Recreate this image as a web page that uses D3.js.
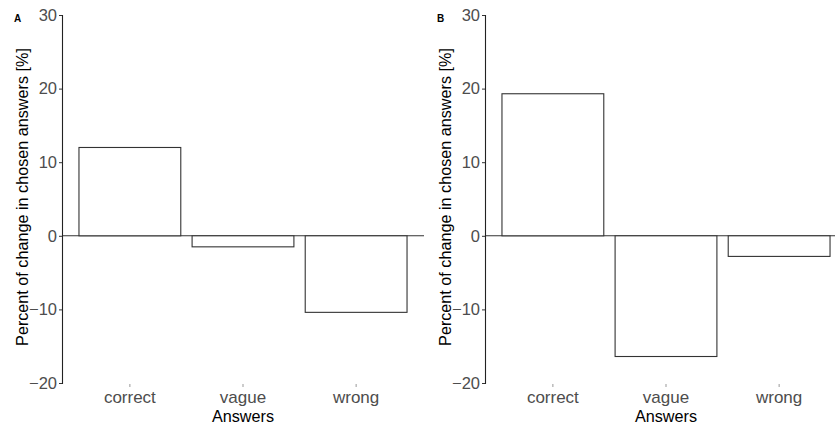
<!DOCTYPE html>
<html>
<head>
  <meta charset="utf-8">
  <title>Change in chosen answers</title>
  <script src="https://d3js.org/d3.v7.min.js"></script>
  <style>
    body { margin: 0; background: #fff; }
    text { font-family: "Liberation Sans", Arial, sans-serif; }
  </style>
</head>
<body>
<div id="chart"></div>
<script type="text/javascript">
  let w = 835;
  let h = 425;

  let answers = ['correct', 'vague', 'wrong'];
  let valuesA = [12.0, -1.5, -10.4];
  let valuesB = [19.3, -16.4, -2.8];
  let yTicks = [-20, -10, 0, 10, 20, 30];
  let panels = [
    {tag: 'A', values: valuesA, left: 62},
    {tag: 'B', values: valuesB, left: 485}
  ];

  let svg = d3.select('#chart')
              .append('svg')
              .attr('width', w)
              .attr('height', h);

  let yScale = d3.scaleLinear()
                .domain([-20, 30])
                .range([383, 15]);

  panels.forEach(p => {
    let panelW = 362;
    // discrete axis with 0.6 expansion on each side, bars 0.9 wide
    let xScale = d3.scaleLinear()
                  .domain([0.4, 3.6])
                  .range([p.left, p.left + panelW]);
    let g = svg.append('g');

    // zero line
    g.append('line')
     .attr('x1', p.left).attr('x2', p.left + panelW)
     .attr('y1', yScale(0)).attr('y2', yScale(0))
     .attr('stroke', '#333').attr('stroke-width', 1.1);

    // bars
    g.selectAll('rect')
     .data(p.values)
     .enter()
     .append('rect')
     .attr('x', (d, i) => xScale(i + 1 - 0.45))
     .attr('width', (d, i) => xScale(i + 1.45) - xScale(i + 0.55))
     .attr('y', d => yScale(Math.max(d, 0)))
     .attr('height', d => Math.abs(yScale(d) - yScale(0)))
     .attr('fill', 'white')
     .attr('stroke', '#333')
     .attr('stroke-width', 1.1);

    // y axis
    let yAxis = d3.axisLeft(yScale).tickValues(yTicks).tickSize(3).tickPadding(2)
                  .tickFormat(d => d < 0 ? '\u2212' + Math.abs(d) : d);
    let ya = g.append('g')
              .attr('transform', `translate(${p.left},0)`)
              .call(yAxis);
    ya.select('.domain').attr('stroke', '#222').attr('stroke-width', 1.1);
    ya.selectAll('.tick line').attr('stroke', '#333');
    ya.selectAll('.tick text')
      .attr('font-size', 16.5).attr('fill', '#4d4d4d')
      .attr('font-family', '"Liberation Sans", Arial, sans-serif');

    // x axis (ticks only)
    let xa = g.append('g');
    xa.selectAll('line')
      .data(answers)
      .enter()
      .append('line')
      .attr('x1', (d, i) => xScale(i + 1)).attr('x2', (d, i) => xScale(i + 1))
      .attr('y1', 384).attr('y2', 387)
      .attr('stroke', '#999');
    xa.selectAll('text')
      .data(answers)
      .enter()
      .append('text')
      .attr('x', (d, i) => xScale(i + 1))
      .attr('y', 402.5)
      .attr('text-anchor', 'middle')
      .attr('font-size', 17)
      .attr('fill', '#4d4d4d')
      .text(d => d);

    // axis titles
    g.append('text')
     .attr('x', xScale(2)).attr('y', 421.5)
     .attr('text-anchor', 'middle')
     .attr('font-size', 16.2)
     .attr('fill', 'black')
     .text('Answers');
    g.append('text')
     .attr('transform', `translate(${p.left - 34},197) rotate(-90)`)
     .attr('text-anchor', 'middle')
     .attr('font-size', 16.2)
     .attr('fill', 'black')
     .text('Percent of change in chosen answers [%]');

    // panel tag
    g.append('text')
     .attr('x', p.left - 48).attr('y', 22)
     .attr('font-size', 10)
     .attr('font-weight', 'bold')
     .attr('fill', 'black')
     .text(p.tag);
  });
</script>
</body>
</html>
